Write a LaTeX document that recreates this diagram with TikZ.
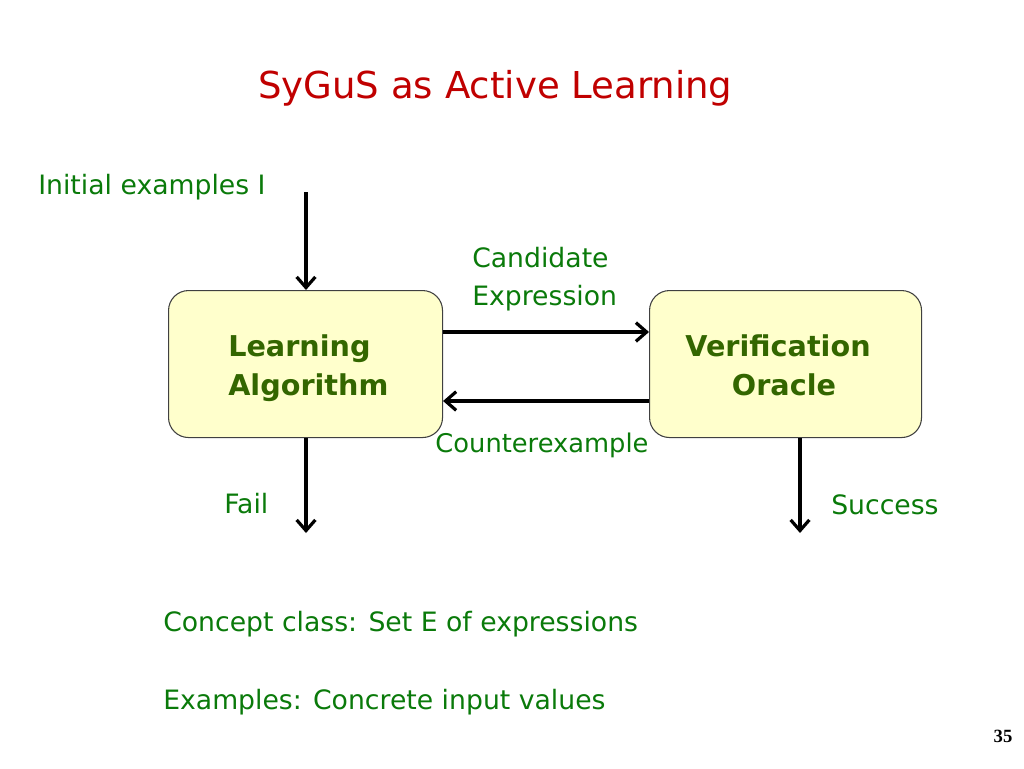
\documentclass[tikz,border=0pt]{standalone}
\usepackage{fontspec}
\setmainfont{DejaVu Sans}
\newfontfamily\numfont{Liberation Serif}
\usetikzlibrary{arrows.meta}
\definecolor{titlered}{HTML}{C00000}
\definecolor{labgreen}{HTML}{0A7A0A}
\definecolor{boxgreen}{HTML}{336600}
\definecolor{boxfill}{HTML}{FFFFCC}
\tikzset{
  procbox/.style={draw=black!75, line width=0.8pt, fill=boxfill, rounded corners=15pt},
  flow/.style={line width=2.4pt, -{Straight Barb[length=8pt,width=14pt,line width=2.4pt]}},
  lab/.style={text=labgreen, font=\fontsize{20}{24}\selectfont, inner sep=0pt},
  boxtext/.style={text=boxgreen, font=\fontsize{21.5}{24}\selectfont\bfseries, inner sep=0pt},
}
\begin{document}
\begin{tikzpicture}[x=0.75pt,y=-0.75pt]
\useasboundingbox (0,0) rectangle (1024,768);
% title
\node[anchor=base west, text=titlered, font=\fontsize{27.8}{32}\selectfont, inner sep=0pt] (title) at (258,98) {SyGuS as Active Learning};
% boxes
\node[procbox, minimum width=274*0.75pt, minimum height=147*0.75pt, anchor=north west] (learn) at (168,290) {};
\node[procbox, minimum width=272*0.75pt, minimum height=147*0.75pt, anchor=north west] (verif) at (649,290) {};
\node[boxtext, anchor=base west] (l1) at (228,356) {Learning};
\node[boxtext, anchor=base west] (l2) at (228,395) {Algorithm};
\node[boxtext, anchor=base] (v1) at (778,356) {Verification};
\node[boxtext, anchor=base] (v2) at (784,395) {Oracle};
% labels
\node[lab, anchor=base west] (init) at (38,194) {Initial examples I};
\node[lab, anchor=base west] (cand1) at (472,267) {Candidate};
\node[lab, anchor=base west] (cand2) at (472,305) {Expression};
\node[lab, anchor=base, font=\fontsize{19.3}{24}\selectfont] (cex) at (542,452) {Counterexample};
\node[lab, anchor=base west] (fail) at (224,513) {Fail};
\node[lab, anchor=base west] (succ) at (831,514) {Success};
\node[lab, anchor=base west] (concept) at (163,631) {Concept class: Set E of expressions};
\node[lab, anchor=base west] (exs) at (163,709) {Examples: Concrete input values};
\node[anchor=base, font=\numfont\bfseries\fontsize{14}{16}\selectfont, inner sep=0pt] (pg) at (1003,742) {35};
% connectors
\coordinate (initstart) at (306,192);
\coordinate (failend) at (306,533);
\coordinate (succend) at (800,533);
\draw[flow] (initstart) -- (learn.north -| initstart);
\draw[flow] (learn.east |- 0,332) -- (verif.west |- 0,332);
\draw[flow] (verif.west |- 0,401) -- (learn.east |- 0,401);
\draw[flow] (learn.south -| failend) -- (failend);
\draw[flow] (verif.south -| succend) -- (succend);
\end{tikzpicture}
\end{document}
